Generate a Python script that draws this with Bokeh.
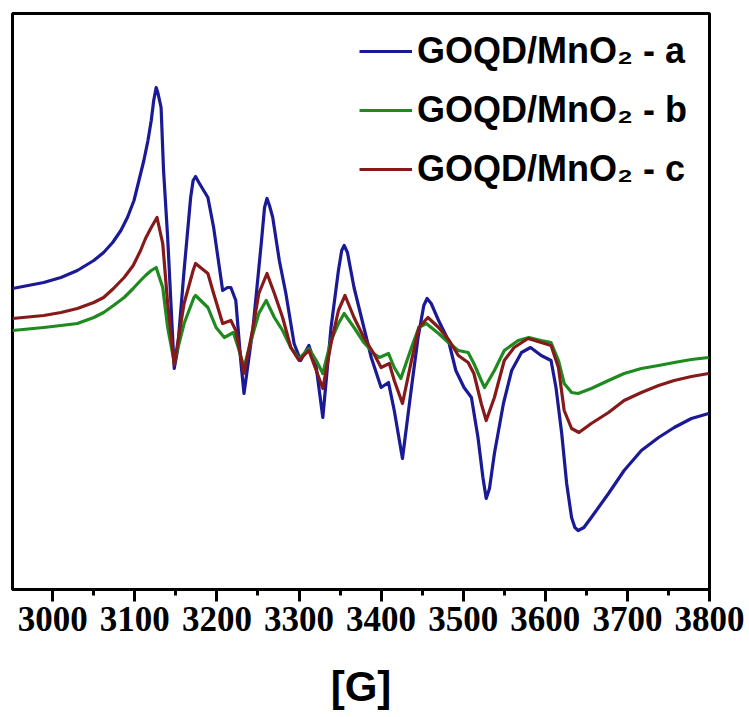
from bokeh.plotting import figure
from bokeh.models import Range1d, Legend, LegendItem, FixedTicker
from bokeh.embed import file_html
from bokeh.resources import INLINE

# Magnetic field [G] and EPR intensity (a.u.)
field_a = [2951, 2989, 3010, 3030, 3050, 3062, 3073, 3083, 3091, 3099, 3105, 3111, 3116, 3120,
           3123, 3126, 3128, 3132, 3135, 3140, 3144, 3148, 3152,
           3160, 3168, 3171, 3174, 3178, 3189, 3196, 3207, 3213, 3217, 3223, 3229, 3233, 3244,
           3254, 3258, 3261, 3264, 3268,
           3276, 3284, 3294, 3302, 3312, 3321, 3329, 3339, 3348, 3352, 3355, 3359, 3367, 3379,
           3388, 3400, 3409, 3416, 3426, 3437, 3445, 3452, 3456, 3461, 3470, 3482, 3491, 3501,
           3510, 3518, 3524, 3528, 3532, 3538, 3549, 3559, 3571, 3582, 3595, 3607, 3613, 3620,
           3626, 3632, 3636, 3640, 3647, 3656, 3677, 3696, 3717, 3738, 3757, 3778, 3799]
int_a = [52, 58, 63, 70, 80, 88, 98, 110, 123, 140, 160, 180, 200, 220,
         240, 253, 248, 233, 170, 103, 37, -28, -10,
         70, 143, 160, 164, 158, 143, 113, 50, 53, 53, 40, -20, -53, 13,
         97, 133, 142, 135, 123,
         80, 47, -3, -20, -5, -27, -77, 13, 70, 90, 95, 88, 53, 13,
         -17, -47, -42, -70, -118, -47, 3, 35, 42, 37, 20, 0, -30, -47,
         -57, -97, -137, -158, -148, -113, -63, -30, -12, -7, -15, -20, -47, -93,
         -143, -177, -187, -190, -187, -177, -153, -130, -110, -97, -87, -78, -73]

field_b = [2951, 2989, 3010, 3030, 3050, 3062, 3074, 3087, 3098, 3107, 3113, 3120, 3126, 3134,
           3140, 3148, 3160, 3172, 3174,
           3189, 3199, 3209, 3220, 3226, 3233, 3244, 3251, 3260, 3270, 3280, 3290, 3300, 3312,
           3321, 3329, 3339, 3348, 3355, 3367, 3379, 3391, 3398, 3409, 3416, 3424, 3437, 3446,
           3455, 3470, 3482, 3494, 3506, 3513, 3522, 3526, 3538, 3550, 3567, 3580, 3595, 3607,
           3616, 3623, 3632, 3640, 3656, 3677, 3696, 3717, 3738, 3757, 3778, 3799]
int_b = [10, 13, 15, 17, 23, 28, 35, 43, 52, 60, 65, 70, 73, 53,
         13, -22, 17, 43, 45,
         33, 13, 3, 8, -7, -27, 7, 27, 40, 23, 10, -7, -18, -8,
         -20, -33, 0, 17, 27, 13, -2, -13, -17, -13, -27, -38, -7, 13,
         17, 7, -2, -10, -12, -23, -40, -47, -30, -10, 0, 3, 0, -2,
         -20, -43, -52, -53, -48, -40, -33, -28, -25, -22, -19, -17]

field_c = [2951, 2989, 3010, 3030, 3050, 3062, 3074, 3087, 3098, 3107, 3113, 3120, 3127, 3134,
           3140, 3148, 3160, 3171, 3174,
           3189, 3196, 3207, 3217, 3223, 3233, 3244, 3251, 3261, 3270, 3280, 3290, 3300, 3312,
           3321, 3329, 3339, 3348, 3356, 3367, 3379, 3391, 3400, 3410, 3416, 3426, 3437, 3446,
           3457, 3470, 3483, 3494, 3506, 3513, 3522, 3528, 3538, 3550, 3562, 3579, 3595, 3607,
           3616, 3623, 3632, 3641, 3656, 3677, 3696, 3717, 3738, 3757, 3778, 3799]
int_c = [22, 25, 28, 32, 38, 43, 52, 63, 75, 90, 102, 113, 123, 97,
         37, -24, 37, 70, 77,
         67, 47, 17, 20, 10, -33, 13, 47, 67, 47, 23, -7, -20, -10,
         -30, -48, -3, 30, 45, 23, 3, -13, -27, -23, -40, -63, -20, 13,
         23, 13, 0, -15, -22, -33, -63, -80, -57, -20, -7, 2, -2, -5,
         -27, -70, -88, -92, -83, -72, -60, -52, -45, -40, -36, -33]

labels = ["GOQD/MnO\u2082 - a", "GOQD/MnO\u2082 - b", "GOQD/MnO\u2082 - c"]
colors = ["#1a1a96", "#1f8a1f", "#861a1a"]
x_ticks = [3000, 3100, 3200, 3300, 3400, 3500, 3600, 3700, 3800]
minor_ticks = [2950, 3050, 3150, 3250, 3350, 3450, 3550, 3650, 3750]

FONT = "Liberation Sans"
NARROW = "Liberation Sans Narrow"

p = figure(width=749, height=717, output_backend="svg", toolbar_location=None,
           x_range=Range1d(2951, 3800), y_range=Range1d(-249, 327),
           min_border_left=12, min_border_right=40, min_border_top=13, min_border_bottom=128)
p.background_fill_color = "white"
p.border_fill_color = "white"
p.outline_line_color = "black"
p.outline_line_width = 3
p.grid.visible = False
p.yaxis.visible = False

ax = p.xaxis[0]
ax.ticker = FixedTicker(ticks=x_ticks, minor_ticks=minor_ticks)
ax.axis_line_width = 3
ax.major_tick_line_width = 3
ax.minor_tick_line_width = 3
ax.major_tick_in = 0
ax.major_tick_out = 12
ax.minor_tick_in = 0
ax.minor_tick_out = 6
ax.major_label_text_font = NARROW
ax.major_label_text_font_style = "bold"
ax.major_label_text_font_size = "35px"
ax.major_label_text_color = "black"
ax.major_label_standoff = 5
ax.axis_label = "[G]"
ax.axis_label_text_font = FONT
ax.axis_label_text_font_style = "bold"
ax.axis_label_text_font_size = "42px"
ax.axis_label_text_color = "black"
ax.axis_label_standoff = 29

r_a = p.line(field_a, int_a, line_color=colors[0], line_width=3.2, line_join="round")
r_b = p.line(field_b, int_b, line_color=colors[1], line_width=3.2, line_join="round")
r_c = p.line(field_c, int_c, line_color=colors[2], line_width=3.2, line_join="round")

legend = Legend(items=[LegendItem(label=labels[0], renderers=[r_a]),
                       LegendItem(label=labels[1], renderers=[r_b]),
                       LegendItem(label=labels[2], renderers=[r_c])],
                location=(347, 396))
legend.border_line_color = None
legend.background_fill_alpha = 0
legend.padding = 0
legend.margin = 0
legend.spacing = 11
legend.glyph_width = 53
legend.glyph_height = 48
legend.label_height = 48
legend.label_standoff = 5
legend.label_text_font = FONT
legend.label_text_font_style = "bold"
legend.label_text_font_size = "36px"
legend.label_text_color = "black"
p.add_layout(legend)

open("out.html", "w").write(file_html(p, INLINE))
